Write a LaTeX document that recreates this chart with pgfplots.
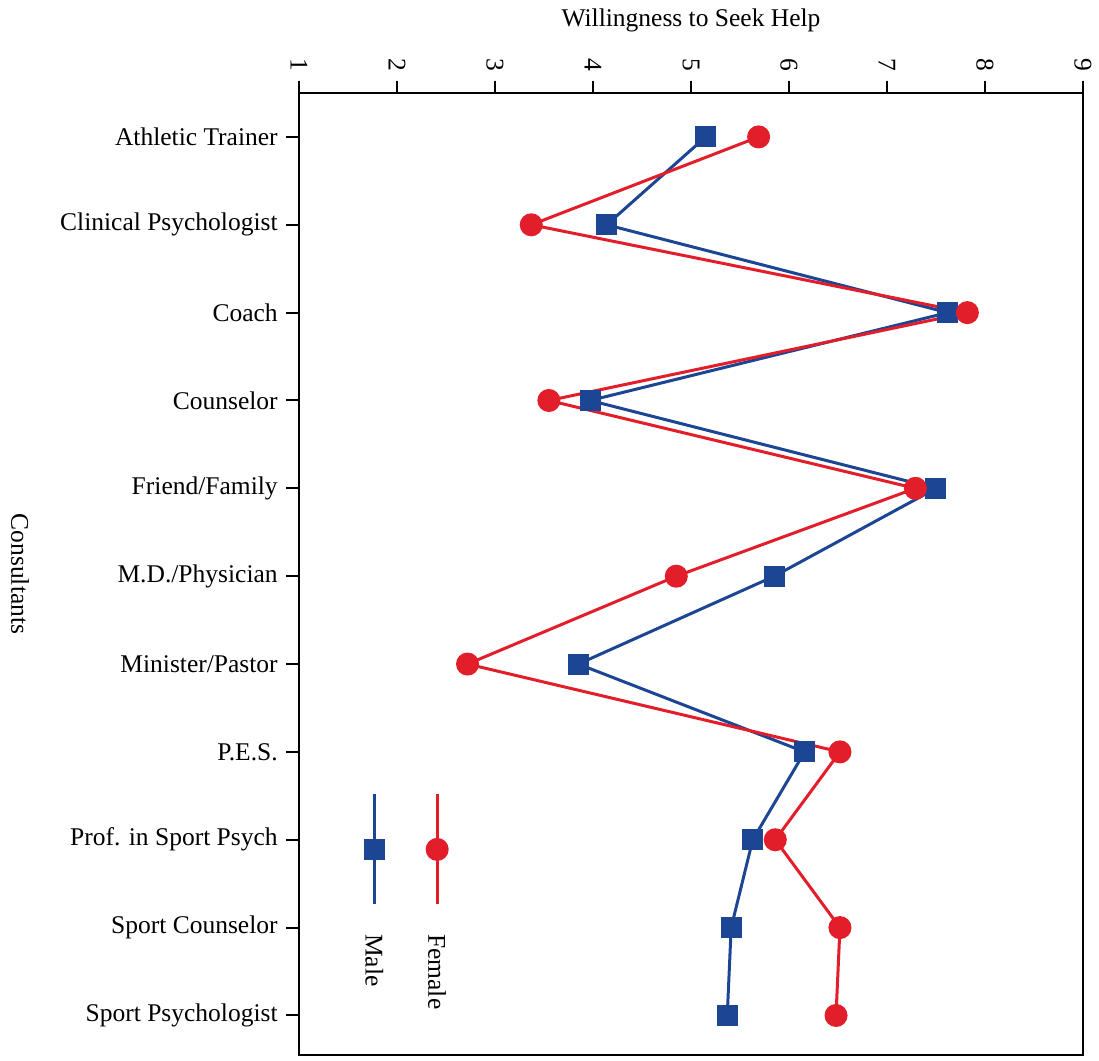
\documentclass[border=0pt]{standalone}
\usepackage{pgfplots}
\pgfplotsset{compat=1.18}
\usepackage{fontspec}
\setmainfont{Liberation Serif}
\definecolor{mblue}{HTML}{1C4594}
\definecolor{fred}{HTML}{E31E2B}
\pgfplotstableread{
idx male female
0 5.15 5.69
1 4.14 3.37
2 7.62 7.82
3 3.97 3.55
4 7.50 7.29
5 5.85 4.85
6 3.85 2.72
7 6.16 6.52
8 5.63 5.86
9 5.41 6.52
10 5.37 6.48
}\datatable
\begin{document}
\begin{tikzpicture}[font=\fontsize{10.2}{12}\selectfont]
\begin{axis}[
  name=ax,
  at={(0,0)}, anchor=north west,
  scale only axis,
  width=313.6pt, height=384.8pt,
  xmin=1, xmax=9,
  ymin=-0.5, ymax=10.45,
  y dir=reverse,
  axis line style={line width=0.8pt},
  tick style={line width=0.8pt, black},
  major tick length=5pt,
  tick align=outside,
  xtick={1,...,9},
  xtick pos=right,
  xticklabel pos=right,
  x tick label style={rotate=-90, anchor=east},
  ytick={0,...,10},
  ytick pos=left,
  yticklabels={Athletic Trainer,Clinical Psychologist,Coach,Counselor,Friend/Family,M.D./Physician,Minister/Pastor,P.E.S.,Prof. in Sport Psych,Sport Counselor,Sport Psychologist},
  /pgf/number format/assume math mode=true,
  xlabel={Willingness to Seek Help},
  xlabel style={at={(rel axis cs:0.5,1)}, anchor=center, yshift=29pt},
  ylabel={Consultants},
  ylabel style={at={(rel axis cs:0,0.5)}, anchor=center, rotate=180, yshift=-111.6pt},
  clip=false,
]
\addplot[mblue, line width=1.2pt, mark=square*, mark size=3.6pt, mark options={solid}] table[x=male, y=idx] {\datatable};
\addplot[fred, line width=1.2pt, mark=*, mark size=4pt] table[x=female, y=idx] {\datatable};
% legend
\addplot[mblue, line width=1.2pt, mark=square*, mark size=3.6pt, mark indices={2}] coordinates {(1.77,7.48) (1.77,8.11) (1.77,8.73)};
\addplot[fred, line width=1.2pt, mark=*, mark size=4pt, mark indices={2}] coordinates {(2.41,7.48) (2.41,8.11) (2.41,8.73)};
\node[rotate=-90, anchor=west, inner sep=0pt] at (axis cs:1.77,9.07) {Male};
\node[rotate=-90, anchor=west, inner sep=0pt] at (axis cs:2.41,9.07) {Female};
\end{axis}
\pgfresetboundingbox
\path (ax.north west) ++(-119.6pt,37.2pt) coordinate (tl);
\path (ax.south east) ++(6.4pt,-2.4pt) coordinate (br);
\path[use as bounding box] (tl) rectangle (br);
\end{tikzpicture}
\end{document}
